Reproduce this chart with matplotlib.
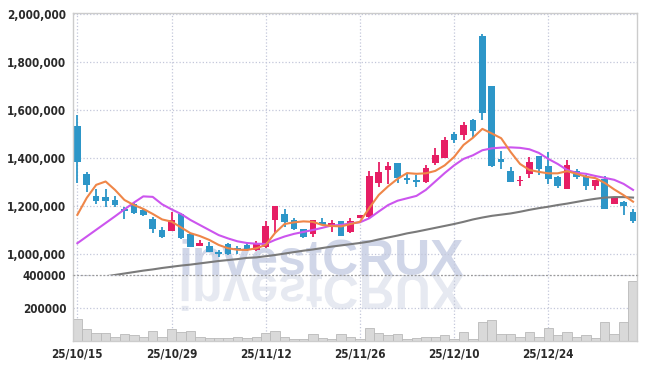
import numpy as np
import matplotlib
matplotlib.use('agg')
import matplotlib.pyplot as plt
from matplotlib import font_manager
from matplotlib.textpath import TextPath
from matplotlib.patches import PathPatch
from matplotlib.font_manager import FontProperties
from matplotlib.transforms import Affine2D, IdentityTransform
from matplotlib.ticker import FuncFormatter

# x tick labels (trading-day index -> date)
date_labels = ['25/10/15', '25/10/29', '25/11/12', '25/11/26', '25/12/10', '25/12/24']
date_pos = [0, 10, 20, 30, 40, 50]

# daily OHLC, in thousand won
opens = [1536, 1335, 1243, 1239, 1226, 1190, 1210, 1186, 1148, 1101,
         1098, 1168, 1083, 1035, 1035, 1008, 1043, 1027, 1039, 1016,
         1030, 1144, 1167, 1143, 1105, 1085, 1133, 1113, 1138, 1091,
         1151, 1155, 1296, 1351, 1378, 1318, 1308, 1299, 1382, 1402,
         1501, 1498, 1559, 1910, 1701, 1398, 1347, 1306, 1333, 1410,
         1368, 1323, 1273, 1345, 1326, 1286, 1314, 1211, 1219, 1176]
highs = [1580, 1343, 1272, 1273, 1242, 1195, 1217, 1188, 1154, 1112,
         1176, 1170, 1090, 1060, 1050, 1018, 1045, 1035, 1051, 1057,
         1139, 1200, 1189, 1151, 1107, 1142, 1150, 1144, 1140, 1150,
         1165, 1346, 1383, 1383, 1379, 1338, 1330, 1373, 1442, 1488,
         1508, 1551, 1561, 1915, 1702, 1429, 1362, 1325, 1407, 1411,
         1425, 1325, 1392, 1354, 1328, 1310, 1326, 1240, 1222, 1190]
lows = [1298, 1261, 1208, 1196, 1196, 1146, 1167, 1160, 1090, 1068,
        1098, 1062, 1032, 1035, 1011, 989, 998, 1001, 1015, 1015,
        1028, 1088, 1115, 1100, 1068, 1071, 1120, 1092, 1076, 1090,
        1150, 1153, 1279, 1293, 1296, 1293, 1279, 1297, 1371, 1400,
        1465, 1476, 1490, 1560, 1365, 1354, 1302, 1285, 1317, 1330,
        1293, 1277, 1272, 1314, 1268, 1269, 1188, 1210, 1163, 1132]
closes = [1386, 1290, 1223, 1223, 1207, 1182, 1173, 1164, 1105, 1072,
          1144, 1068, 1032, 1048, 1011, 1003, 1000, 1021, 1023, 1042,
          1118, 1200, 1136, 1104, 1073, 1142, 1122, 1129, 1078, 1139,
          1162, 1326, 1343, 1368, 1319, 1311, 1300, 1360, 1414, 1476,
          1476, 1539, 1515, 1590, 1369, 1383, 1302, 1310, 1383, 1354,
          1314, 1285, 1372, 1323, 1285, 1308, 1190, 1239, 1201, 1140]

# moving averages as drawn (thousand won)
ma5 = [1164, 1235, 1289, 1303, 1268, 1226, 1205, 1189, 1168, 1145,
       1136, 1112, 1088, 1076, 1060, 1039, 1025, 1019, 1018, 1025,
       1039, 1089, 1126, 1133, 1137, 1135, 1122, 1118, 1116, 1126,
       1135, 1193, 1247, 1283, 1314, 1338, 1335, 1337, 1347, 1370,
       1405, 1455, 1485, 1522, 1503, 1483, 1426, 1376, 1351, 1343,
       1337, 1337, 1346, 1335, 1323, 1317, 1297, 1270, 1246, 1219]
ma20 = [1046, 1074, 1102, 1130, 1158, 1187, 1215, 1241, 1239, 1208,
        1187, 1168, 1143, 1122, 1101, 1080, 1066, 1054, 1047, 1044,
        1043, 1060, 1074, 1085, 1093, 1101, 1110, 1120, 1122, 1129,
        1133, 1150, 1178, 1205, 1223, 1233, 1243, 1268, 1303, 1338,
        1370, 1397, 1412, 1433, 1441, 1444, 1445, 1443, 1437, 1422,
        1397, 1376, 1351, 1339, 1335, 1326, 1318, 1310, 1293, 1268]
ma60 = [890, 896, 902, 908, 914, 920, 926, 932, 937, 943,
        948, 953, 957, 962, 967, 972, 976, 980, 985, 987,
        992, 997, 1003, 1009, 1015, 1020, 1026, 1032, 1037, 1042,
        1047, 1053, 1062, 1070, 1078, 1087, 1094, 1102, 1110, 1118,
        1126, 1135, 1145, 1153, 1160, 1165, 1170, 1177, 1185, 1192,
        1198, 1205, 1211, 1218, 1225, 1231, 1236, 1238, 1238, 1236]

# daily volume, in thousand shares
volume = [134, 73, 43, 43, 24, 37, 31, 24, 61, 24,
          73, 49, 61, 24, 18, 18, 18, 24, 18, 24,
          43, 55, 24, 12, 12, 37, 18, 12, 39, 24,
          10, 75, 45, 32, 39, 12, 18, 24, 24, 31,
          12, 49, 12, 116, 128, 39, 39, 24, 49, 24,
          75, 31, 49, 24, 31, 18, 110, 39, 110, 361]


def narrow_font():
    # look for any installed condensed / narrow face, prefer bold
    found = []
    for f in font_manager.fontManager.ttflist:
        tag = (f.name + ' ' + str(f.stretch) + ' ' + f.fname).lower()
        if 'narrow' in tag or 'condensed' in tag:
            found.append(f)
    if not found:
        return None
    found.sort(key=lambda f: (0 if str(f.weight) in ('bold', '700') else 1,
                              0 if 'dejavu' in f.name.lower() else 1))
    return FontProperties(fname=found[0].fname)


nf = narrow_font()
if nf is not None:
    label_fp = nf.copy()
    label_fp.set_size(8.4)
else:
    label_fp = FontProperties(family='Roboto', weight='bold', size=8.8)
mark_font = 'Liberation Sans'

UP = '#e61e64'
DOWN = '#2d96c8'
GRID = '#c3c7da'

n = len(closes)
x = np.arange(n)
o = np.array(opens) * 1000
h = np.array(highs) * 1000
l = np.array(lows) * 1000
c = np.array(closes) * 1000
cols = [UP if cc >= oo else DOWN for oo, cc in zip(o, c)]

fig = plt.figure(figsize=(6.47, 3.69), dpi=100)
W, H = 647, 369
left, right = 73.3, 637.0
axp = fig.add_axes([left / W, 1 - 275 / H, (right - left) / W, (275 - 12.7) / H])
axv = fig.add_axes([left / W, 1 - 340.5 / H, (right - left) / W, (340.5 - 275) / H])

for ax in (axp, axv):
    ax.set_xlim(-0.43, n - 1 + 0.42)
    ax.set_axisbelow(True)
    ax.grid(True, color=GRID, linestyle=':', linewidth=0.9)
    ax.tick_params(length=0, labelcolor='#2a2a2a', pad=5)
    for s in ax.spines.values():
        s.set_color('#cccccc')
        s.set_linewidth(1.0)
    ax.set_xticks(date_pos)

axp.spines['bottom'].set_visible(False)
axv.spines['top'].set_visible(False)

# price pane
axp.set_ylim(913800, 2005500)
axp.set_yticks(np.arange(1000000, 2000001, 200000))
axp.yaxis.set_major_formatter(FuncFormatter(lambda v, p: '{:,.0f}'.format(v)))
axp.set_xticklabels([])

body_lo = np.minimum(o, c)
body_h = np.maximum(np.abs(c - o), 3000)
axp.vlines(x, l, h, colors=cols, linewidth=1.3, zorder=2)
axp.bar(x, body_h, bottom=body_lo, width=0.7, color=cols, linewidth=0, zorder=2.1)

axp.plot(x, np.array(ma60) * 1000, color='#7a7a7a', linewidth=1.5, zorder=3)
axp.plot(x, np.array(ma20) * 1000, color='#cc55ee', linewidth=1.5, zorder=3)
axp.plot(x, np.array(ma5) * 1000, color='#ef8648', linewidth=1.5, zorder=3)

# volume pane
axv.set_ylim(0, 400000)
axv.set_yticks([200000, 400000])
axv.set_yticklabels(['200000', '400000'])
axv.set_xticklabels(date_labels)
axv.bar(x, np.array(volume) * 1000, width=1.0, color='#d9d9d9',
        edgecolor='#b9b9b9', linewidth=0.6, zorder=2)
axv.axhline(400000, color='#9a9a9a', linestyle=(0, (1.5, 1.5)), linewidth=0.9,
            clip_on=False, zorder=4)

for ax in (axp, axv):
    for t in ax.get_xticklabels() + ax.get_yticklabels():
        t.set_fontproperties(label_fp)

# watermark and its reflection
wm = 'investCRUX'
fp = FontProperties(family=mark_font, weight='bold')
tp1 = TextPath((0, 0), wm, size=1, prop=fp)
ext = tp1.get_extents()
em_px = 282.0 / ext.width
x0 = 181.7 - ext.x0 * em_px
base_y = 274.7
axp.text(x0 / W, 1 - base_y / H, wm, transform=fig.transFigure,
         fontproperties=fp, fontsize=em_px * 72 / 100, color='#d0d6e8',
         ha='left', va='baseline', zorder=0.3)
tp = TextPath((0, 0), wm, size=em_px, prop=fp)
flip = Affine2D().scale(1, -1).translate(x0, H - base_y)
axv.add_patch(PathPatch(tp, transform=flip + IdentityTransform(),
                        facecolor='#e6e9f1', edgecolor='none', zorder=0.3))

fig.savefig('out.png', dpi=100)
